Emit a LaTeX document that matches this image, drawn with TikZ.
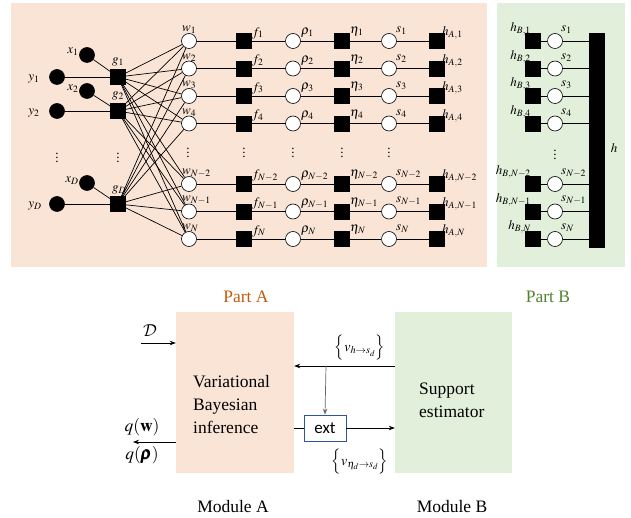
\documentclass[tikz,border=0pt]{standalone}
\usepackage{amsmath}
\usepackage{mathptmx}
\DeclareMathAlphabet{\mathcal}{OMS}{cmsy}{m}{n}
\usepackage[no-math]{fontspec}
\setmainfont{Liberation Serif}
\newfontfamily\carlito{Carlito}
\usetikzlibrary{arrows.meta}
\definecolor{pinkbg}{HTML}{FAE4D6}
\definecolor{greenbg}{HTML}{E2EFDA}
\definecolor{partA}{HTML}{C55A11}
\definecolor{partB}{HTML}{548235}
\definecolor{extblue}{HTML}{2F5597}
\begin{document}
\begin{tikzpicture}[x=1pt,y=-1pt,
  fcirc/.style={circle,draw,fill=black,minimum size=15pt,inner sep=0pt,line width=0.6pt},
  ocirc/.style={circle,draw,fill=white,minimum size=15pt,inner sep=0pt,line width=0.6pt},
  fsq/.style={rectangle,draw,fill=black,minimum size=15pt,inner sep=0pt},
  lab/.style={font=\fontsize{13}{15}\selectfont,inner sep=0pt},
  big/.style={font=\fontsize{17.5}{23}\selectfont,inner sep=0pt},
  ln/.style={line width=0.7pt},
  arr/.style={line width=0.7pt,-{Stealth[length=6pt,width=4.5pt]}},
  dots/.style={font=\fontsize{13}{15}\selectfont,inner sep=0pt}]
\useasboundingbox (0,0) rectangle (631,518);
% backgrounds
\fill[pinkbg] (11,3) rectangle (487,267);
\fill[greenbg] (497,3) rectangle (625,267);
% left inputs
\node[fcirc] (y1) at (57,77) {};
\node[fcirc] (y2) at (57,111) {};
\node[fcirc] (yD) at (57,204) {};
\node[fcirc] (x1) at (87,55) {};
\node[fcirc] (x2) at (87,91) {};
\node[fcirc] (xD) at (87,183) {};
\node[fsq] (g1) at (118,77) {};
\node[fsq] (g2) at (118,111) {};
\node[fsq] (gD) at (118,204) {};
\node[lab] (ly1) at (34,79) {$y_1$};
\node[lab] (ly2) at (34,113) {$y_2$};
\node[lab] (lyD) at (35,206) {$y_D$};
\node[lab] (lx1) at (73,52) {$x_1$};
\node[lab] (lx2) at (73,89) {$x_2$};
\node[lab] (lxD) at (72,181) {$x_D$};
\node[lab] (lg1) at (118,62) {$g_1$};
\node[lab] (lg2) at (118,96) {$g_2$};
\node[lab] (lgD) at (119,190) {$g_D$};
\node[dots] (d1) at (57,155) {$\vdots$};
\node[dots] (d2) at (118,155) {$\vdots$};
\draw[ln] (y1) -- (g1);
\draw[ln] (y2) -- (g2);
\draw[ln] (yD) -- (gD);
\draw[ln] (x1) -- (g1);
\draw[ln] (x2) -- (g2);
\draw[ln] (xD) -- (gD);
% bar of part B
\node[fill=black,minimum width=16pt,minimum height=215pt,inner sep=0pt] (bar) at (597,140.5) {};
\node[lab] (lh) at (614,148) {$h$};
% rows
\foreach \i/\yy/\sb in {1/41/1,2/68.5/2,3/96/3,4/123.5/4,5/184/N-2,6/211.5/N-1,7/239/N}{
  \node[ocirc] (w\i) at (189,\yy) {};
  \node[fsq] (f\i) at (244,\yy) {};
  \node[ocirc] (r\i) at (293,\yy) {};
  \node[fsq] (e\i) at (342,\yy) {};
  \node[ocirc] (s\i) at (389,\yy) {};
  \node[fsq] (ha\i) at (437,\yy) {};
  \draw[ln] (w\i) -- (f\i) -- (r\i) -- (e\i) -- (s\i) -- (ha\i);
  \node[lab,anchor=west] (lw\i) at (182,\yy-11) {$w_{\sb}$};
  \node[lab,anchor=west] (lf\i) at (252,\yy-8) {$f_{\sb}$};
  \node[lab,anchor=west] (lr\i) at (301,\yy-8) {$\rho_{\sb}$};
  \node[lab,anchor=west] (le\i) at (350,\yy-9) {$\eta_{\sb}$};
  \node[lab,anchor=west] (ls\i) at (396,\yy-10) {$s_{\sb}$};
  \node[lab,anchor=west] (lha\i) at (442,\yy-8) {$h_{A,\sb}$};
  \node[fsq] (hb\i) at (533,\yy) {};
  \node[ocirc] (sb\i) at (555,\yy) {};
  \draw[ln] (hb\i) -- (sb\i);
  \draw[ln] (sb\i) -- (bar.west |- sb\i);
  \node[lab,anchor=east] (lhb\i) at (531,\yy-12) {$h_{B,\sb}$};
  \node[lab,anchor=west] (lsb\i) at (561,\yy-11) {$s_{\sb}$};
}
\foreach \g in {g1,g2,gD}{
  \foreach \j in {1,...,7}{
    \draw[ln] (\g) -- (w\j);
  }
}
\foreach \xx in {188,244,293,342,389}{
  \node[dots] at (\xx,150) {$\vdots$};
}
\node[dots] (dB) at (555,152) {$\vdots$};
% bottom part
\node[big,text=partA] (pA) at (246,297) {Part A};
\node[big,text=partB] (pB) at (548,297) {Part B};
\node[fill=pinkbg,minimum width=118pt,minimum height=161pt,inner sep=0pt] (ma) at (235,392.5) {};
\node[fill=greenbg,minimum width=117pt,minimum height=161pt,inner sep=0pt] (mb) at (453.5,392.5) {};
\node[big,align=left,anchor=west] (tA) at (193,405) {Variational\\Bayesian\\inference};
\node[big,align=left,anchor=west] (tB) at (419,400.5) {Support\\estimator};
\node[draw=extblue,line width=0.8pt,fill=white,minimum width=42pt,minimum height=26pt,inner sep=0pt,font=\carlito\fontsize{17}{20}\selectfont] (ext) at (325,428) {ext};
\coordinate (dstart) at (141,343);
\coordinate (qend) at (133,442);
\coordinate (fb) at (326,366);
\draw[arr] (dstart) -- (ma.west |- dstart);
\node[big] (lD) at (150,331) {$\mathcal{D}$};
\draw[arr] (ma.west |- qend) -- (qend);
\node[big] (lqw) at (142,427) {$q(\mathbf{w})$};
\node[big] (lqr) at (142,455) {$q(\pmb{\rho})$};
\draw[arr] (mb.west |- fb) -- (ma.east |- fb);
\draw[arr,black!60] (fb) -- (ext.north);
\draw[ln] (ma.east |- ext) -- (ext.west);
\draw[arr] (ext.east) -- (mb.west |- ext);
\node[font=\fontsize{14}{16}\selectfont,inner sep=0pt] (lv1) at (360,348) {$\Big\{v_{h\to s_d}\Big\}$};
\node[font=\fontsize{14}{16}\selectfont,inner sep=0pt] (lv2) at (360,462) {$\Big\{v_{\eta_d\to s_d}\Big\}$};
\node[big] (mA) at (233,507) {Module A};
\node[big] (mB) at (452,507) {Module B};
\end{tikzpicture}
\end{document}
